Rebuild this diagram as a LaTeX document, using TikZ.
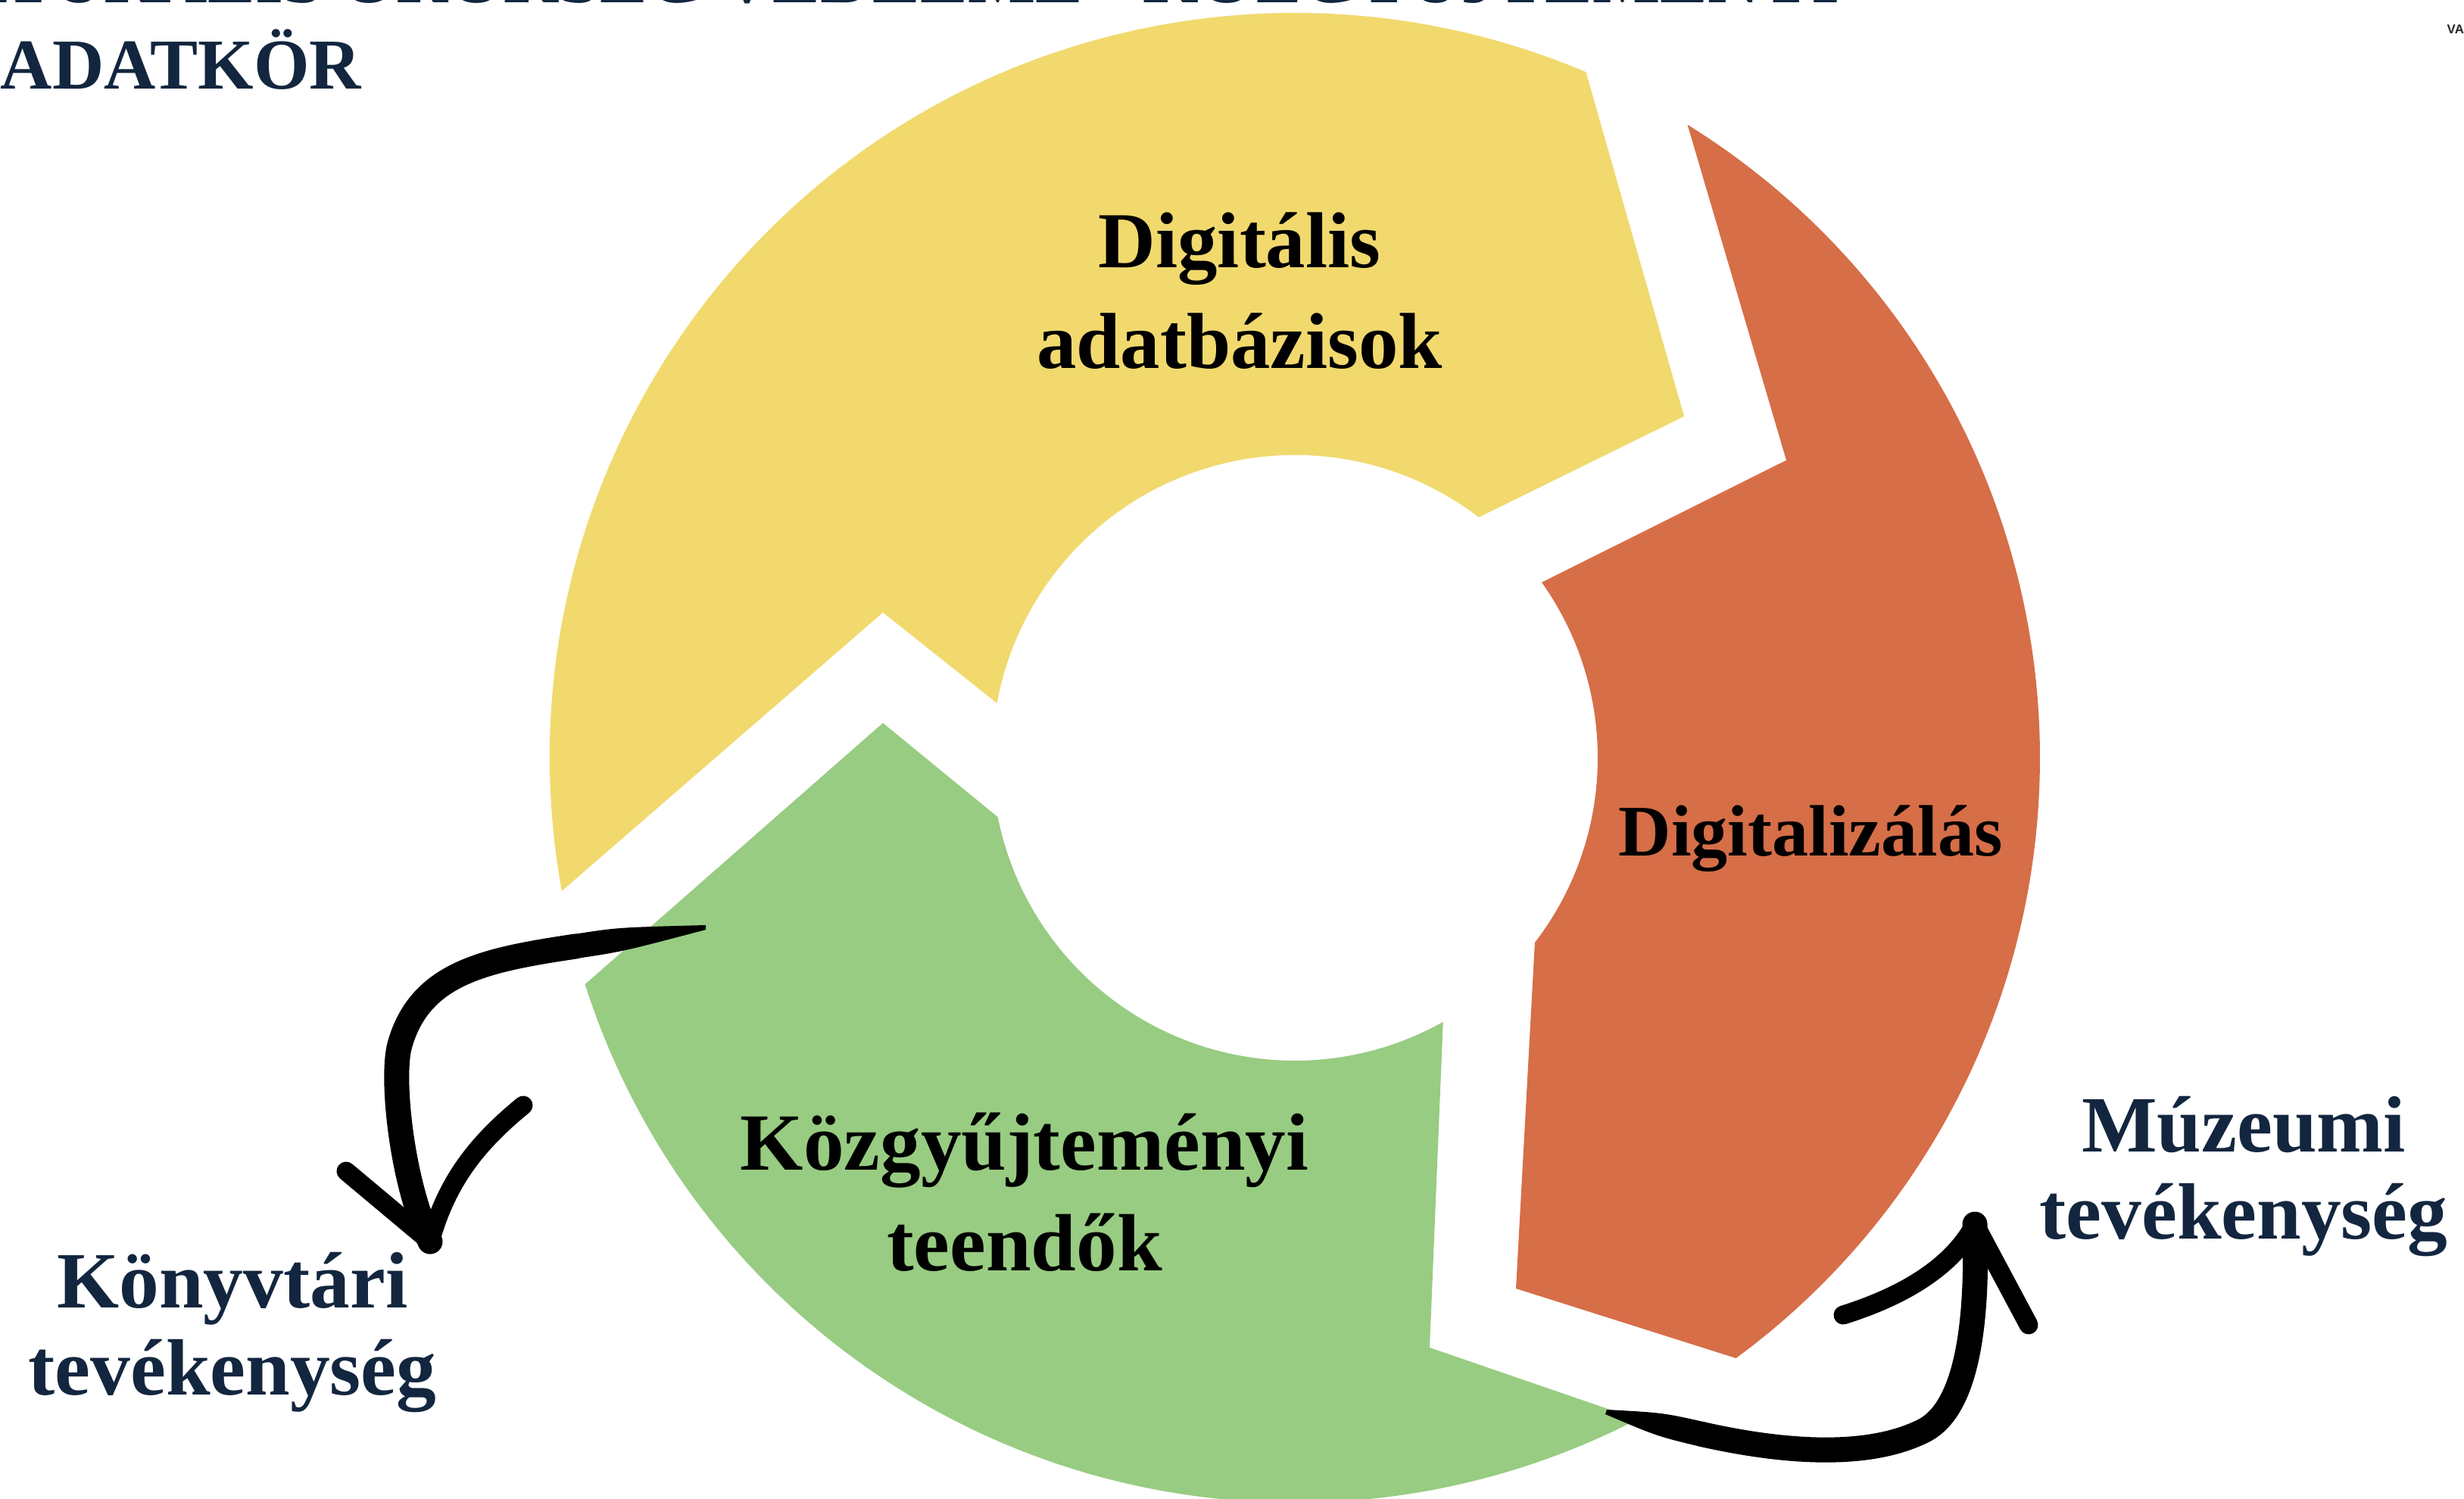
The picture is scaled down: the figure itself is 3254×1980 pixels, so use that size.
\documentclass[tikz,border=0pt]{standalone}
\usepackage{fontspec}
\setmainfont{Liberation Serif}
\setsansfont{Liberation Sans}
\usetikzlibrary{calc}
\definecolor{sarga}{HTML}{F1D96E}
\definecolor{narancs}{HTML}{D66E48}
\definecolor{zold}{HTML}{98CC82}
\definecolor{sotetkek}{HTML}{13263F}

\begin{document}
\begin{tikzpicture}[
        x=0.01cm, y=0.01cm,
        cimke/.style={align=center, text=black, font=\bfseries\fontsize{29.8pt}{38pt}\selectfont},
        oldal/.style={align=center, text=sotetkek, font=\bfseries\fontsize{30pt}{32.7pt}\selectfont},
        cim/.style={text=sotetkek, inner sep=0pt, font=\bfseries\fontsize{26.9pt}{30pt}\selectfont},
        ecset/.style={line width=0.33cm, line cap=round, line join=round},
        horog/.style={line width=0.25cm, line cap=round}
    ]
        \fill[white] (0,0) rectangle (3254,-1980);
        \useasboundingbox (0,0) rectangle (3254,-1980);
        \coordinate (kp) at (1710,-1001);

        \fill[sarga] ($(kp)+(190.3:984)$) arc[start angle=190.3, end angle=67, radius=984]
            -- (2224,-550) -- ($(kp)+(52.6:400)$) arc[start angle=52.6, end angle=169.6, radius=400]
            -- (1166,-809) -- cycle;
        \fill[narancs] ($(kp)+(58.2:984)$) arc[start angle=58.2, end angle=-53.7, radius=984]
            -- (2002,-1702) -- ($(kp)+(-37.6:400)$) arc[start angle=-37.6, end angle=35.4, radius=400]
            -- (2359,-608) -- cycle;
        \fill[zold] ($(kp)+(-62.6:984)$) arc[start angle=-62.6, end angle=-162.3, radius=984]
            -- (1166,-955) -- ($(kp)+(-168.7:400)$) arc[start angle=-168.7, end angle=-60.7, radius=400]
            -- (1888,-1780) -- cycle;

        \node[cim, anchor=base east] (fejlec) at (2430,-4) {KULTURÁLIS ÖRÖKSÉG VÉDELME - KÖZGYŰJTEMÉNYI};
        \node[cim, anchor=base east] (feladat) at (478,-118) {FELADATKÖR};
        \node[font=\sffamily\bfseries\fontsize{4.8pt}{6pt}\selectfont, text=black!85, inner sep=0pt, anchor=base west] (jelzes) at (3231,-45) {VA};

        \node[cimke] (adatb) at (1637,-384) {Digitális\\adatbázisok};
        \node[cimke, font=\bfseries\fontsize{27.3pt}{34pt}\selectfont, anchor=base] (digit) at (2391,-1131) {Digitalizálás};
        \node[cimke, font=\bfseries\fontsize{30.5pt}{37.8pt}\selectfont] (kozgy) at (1353,-1575) {Közgyűjteményi\\teendők};
        \node[oldal] (konyvt) at (307,-1760) {Könyvtári\\tevékenység};
        \node[oldal] (muzeum) at (2963,-1554) {Múzeumi\\tevékenység};

        \coordinate (bal-farok) at (932,-1225);
        \coordinate (bal-a) at (760,-1250);
        \coordinate (bal-hegy) at (568,-1640);
        \fill (932,-1222) .. controls (816,-1225) .. (758,-1234) -- (762,-1266)
            .. controls (822,-1257) .. (932,-1228) -- cycle;
        \draw[ecset] (bal-a) .. controls (640,-1268) and (555,-1285) .. (528,-1380)
            .. controls (516,-1422) and (530,-1560) .. (bal-hegy);
        \draw[horog] (bal-hegy) -- (457,-1547);
        \draw[horog] (bal-hegy) .. controls (590,-1560) and (630,-1510) .. (691,-1460);

        \coordinate (jobb-farok) at (2121,-1865);
        \coordinate (jobb-a) at (2250,-1895);
        \coordinate (jobb-hegy) at (2608,-1617);
        \fill (2122,-1862) .. controls (2196,-1866) .. (2254,-1879) -- (2246,-1911)
            .. controls (2188,-1897) .. (2120,-1868) -- cycle;
        \draw[ecset] (jobb-a) .. controls (2340,-1915) and (2460,-1930) .. (2540,-1890)
            .. controls (2600,-1860) and (2612,-1740) .. (jobb-hegy);
        \draw[horog] (jobb-hegy) .. controls (2580,-1670) and (2520,-1710) .. (2434,-1737);
        \draw[horog] (jobb-hegy) -- (2679,-1750);
    \end{tikzpicture}
\end{document}
